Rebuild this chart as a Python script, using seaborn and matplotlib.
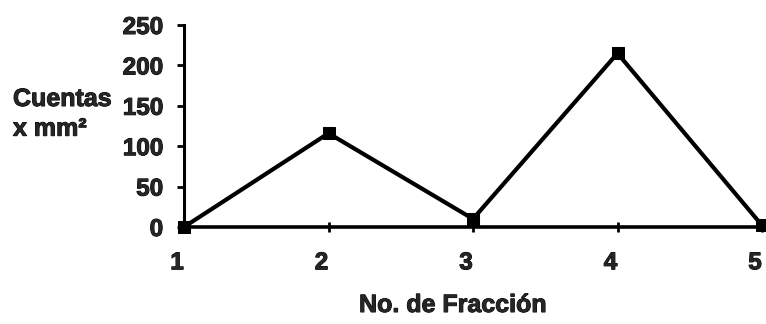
import matplotlib
matplotlib.use("Agg")
import matplotlib.pyplot as plt
import matplotlib.patheffects as pe
import matplotlib.transforms as mtransforms
import seaborn as sns
import pandas as pd

# Counts per fraction
fracciones = [1, 2, 3, 4, 5]
cuentas = [0, 116, 10, 215, 2]
yticks = [0, 50, 100, 150, 200, 250]

sns.set_theme(style="white")
plt.rcParams["font.family"] = ["Liberation Sans", "DejaVu Sans"]
plt.rcParams["font.weight"] = "bold"

heavy = [pe.withStroke(linewidth=0.7, foreground="black")]

df = pd.DataFrame({"fraccion": fracciones, "cuentas": cuentas})

fig = plt.figure(figsize=(7.66, 3.24), dpi=100)
ax = fig.add_axes([184 / 766, 1 - 227 / 324, (762 - 184) / 766, (227 - 25) / 324])

sns.lineplot(data=df, x="fraccion", y="cuentas", ax=ax, color="black",
             linewidth=3, marker="s", markersize=8.5, markeredgecolor="black",
             markerfacecolor="black", clip_on=False)

ax.set_xlim(1, 5)
ax.set_ylim(0, 250)
ax.set_xticks(fracciones)
ax.set_yticks(yticks)
ax.set_xticklabels([str(f) for f in fracciones], fontsize=17.5, fontweight="bold")
ax.set_yticklabels([str(t) for t in yticks], fontsize=17.5, fontweight="bold")
ax.set_xlabel("")
ax.set_ylabel("")

for side in ["top", "right"]:
    ax.spines[side].set_visible(False)
ax.spines["left"].set_linewidth(2.2)
ax.spines["bottom"].set_linewidth(2.6)
ax.spines["left"].set_color("black")
ax.spines["bottom"].set_color("black")

ax.tick_params(axis="y", direction="out", length=5, width=2, color="black", pad=10, left=True)
ax.tick_params(axis="x", direction="inout", length=7, width=2, color="black", pad=14, bottom=True)

# x tick labels sit slightly left of their ticks
shift = mtransforms.ScaledTranslation(-7 / 100, 0, fig.dpi_scale_trans)
for lbl in ax.get_xticklabels():
    lbl.set_transform(lbl.get_transform() + shift)
for lbl in ax.get_xticklabels() + ax.get_yticklabels():
    lbl.set_path_effects(heavy)

fig.text(13 / 766, 1 - 87 / 324, "Cuentas\nx mm²", ha="left", va="top",
         fontsize=18, fontweight="bold", linespacing=1.3, path_effects=heavy)
fig.text(453 / 766, 1 - 305 / 324, "No. de Fracción", ha="center", va="center",
         fontsize=18, fontweight="bold", path_effects=heavy)

fig.savefig("out.png", dpi=100)
